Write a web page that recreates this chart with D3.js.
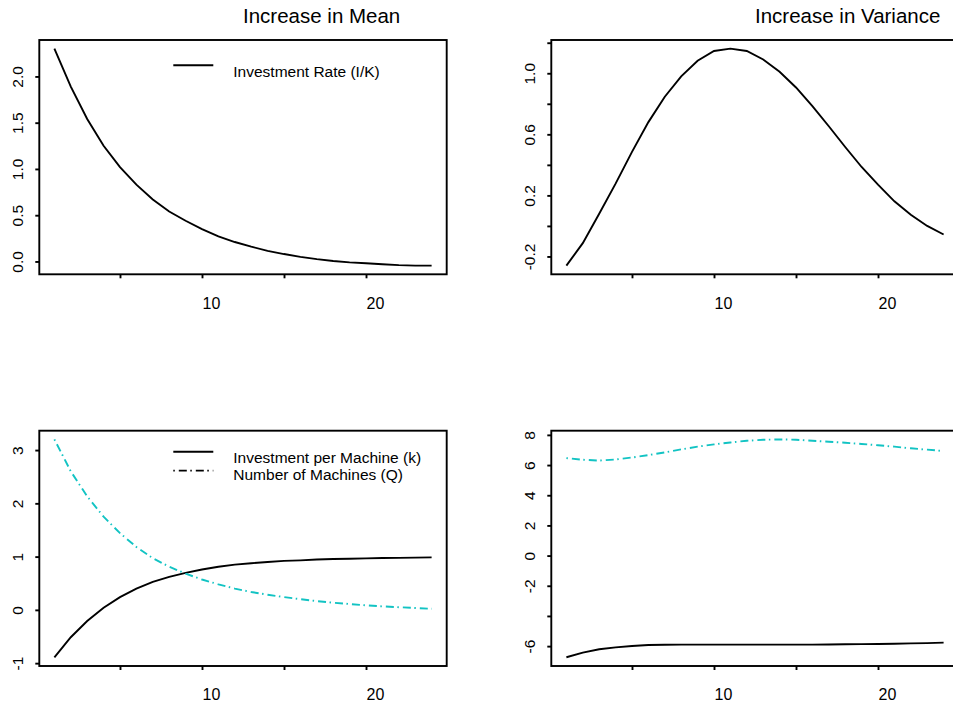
<!DOCTYPE html>
<html><head><meta charset="utf-8">
<script src="https://cdn.jsdelivr.net/npm/d3@7"></script>
<style>
body{margin:0;background:#fff}
svg{display:block;font-family:"Liberation Sans",Arial,Helvetica,sans-serif}
</style>
</head><body>
<svg id="chart" width="953" height="707"></svg>
<script>
// ---------- data ----------
const periods = [1,2,3,4,5,6,7,8,9,10,11,12,13,14,15,16,17,18,19,20,21,22,23,24];

const meanInvestmentRate = [2.30,1.89,1.54,1.25,1.02,0.83,0.67,0.54,0.44,0.35,0.27,0.21,0.16,0.115,0.08,0.05,0.025,0.005,-0.01,-0.02,-0.03,-0.04,-0.045,-0.045];
const varInvestmentRate  = [-0.26,-0.113,0.08,0.277,0.485,0.68,0.846,0.98,1.082,1.146,1.161,1.146,1.09,1.01,0.907,0.785,0.653,0.517,0.386,0.27,0.161,0.073,0.0,-0.056];
const meanInvPerMachine  = [-0.89,-0.513,-0.21,0.04,0.24,0.40,0.525,0.62,0.695,0.758,0.81,0.85,0.875,0.90,0.92,0.93,0.945,0.955,0.96,0.967,0.973,0.977,0.98,0.985];
const meanNumMachines    = [3.2,2.6,2.13,1.75,1.44,1.18,0.97,0.81,0.68,0.57,0.48,0.40,0.335,0.285,0.24,0.20,0.165,0.135,0.11,0.085,0.066,0.05,0.035,0.02];
const varInvPerMachine   = [-6.74,-6.43,-6.21,-6.08,-5.99,-5.93,-5.91,-5.90,-5.90,-5.90,-5.90,-5.90,-5.90,-5.90,-5.90,-5.90,-5.89,-5.88,-5.87,-5.86,-5.84,-5.82,-5.80,-5.77];
const varNumMachines     = [6.46,6.35,6.30,6.37,6.50,6.66,6.84,7.04,7.22,7.37,7.50,7.61,7.68,7.70,7.68,7.61,7.55,7.48,7.40,7.31,7.22,7.11,7.02,6.93];

const xTicks = [5,10,15,20];
const xTickLabels = [10,20];
const yTicksTL = [0,0.5,1,1.5,2];
const yLabelsTL = ["0.0","0.5","1.0","1.5","2.0"];
const yTicksTR = [-0.2,0,0.2,0.4,0.6,0.8,1.0,1.2];
const yLabelsTR = {"-0.2":"-0.2","0.2":"0.2","0.6":"0.6","1":"1.0"};
const yTicksBL = [-1,0,1,2,3];
const yTicksBR = [-6,-4,-2,0,2,4,6,8];
const yLabelsBR = [-6,-2,0,2,4,6,8];

const titles = ["Increase in Mean","Increase in Variance"];
const legendTL = ["Investment Rate (I/K)"];
const legendBL = ["Investment per Machine (k)","Number of Machines (Q)"];

// ---------- styles ----------
const CYAN = "#12c3c3";
const DOTDASH = "1.5,4,8,3.5";
const LW = 1.9;

const svg = d3.select("#chart");
const panelW = 407.4;

function padDomain(arrs){
  const all = arrs.flat();
  const lo = d3.min(all), hi = d3.max(all), p = (hi-lo)*0.04;
  return [lo-p, hi+p];
}

const panels = [
  {left:39.3, top:40, h:234.3, title:titles[0],
   series:[{v:meanInvestmentRate,c:"#000",d:null}],
   yTicks:yTicksTL, yFmt:d=>yLabelsTL[yTicksTL.indexOf(d)],
   legend:[{t:legendTL[0],c:"#000",d:null,ly:65.3,ty:76.5}]},
  {left:551.3, top:40, h:234.3, title:titles[1],
   series:[{v:varInvestmentRate,c:"#000",d:null}],
   yTicks:yTicksTR, yFmt:d=>yLabelsTR[String(+d.toFixed(1))]||"",
   legend:[]},
  {left:39.3, top:430.7, h:235.3, title:null,
   series:[{v:meanInvPerMachine,c:"#000",d:null},{v:meanNumMachines,c:CYAN,d:DOTDASH}],
   yTicks:yTicksBL, yFmt:d=>String(d),
   legend:[{t:legendBL[0],c:"#000",d:null,ly:451.8,ty:462.5},
           {t:legendBL[1],c:"#000",d:DOTDASH,ly:470.6,ty:480}]},
  {left:551.3, top:430.7, h:235.3, title:null,
   series:[{v:varInvPerMachine,c:"#000",d:null},{v:varNumMachines,c:CYAN,d:DOTDASH}],
   yTicks:yTicksBR, yFmt:d=>yLabelsBR.includes(d)?String(d):"",
   legend:[]}
];

panels.forEach(p=>{
  const x = d3.scaleLinear().domain(padDomain([periods])).range([p.left,p.left+panelW]);
  const y = d3.scaleLinear().domain(padDomain(p.series.map(s=>s.v))).range([p.top+p.h,p.top]);
  const g = svg.append("g");

  // y axis
  const ya = g.append("g").attr("transform",`translate(${p.left},0)`)
    .call(d3.axisLeft(y).tickValues(p.yTicks).tickSize(4).tickSizeOuter(0).tickFormat(p.yFmt));
  ya.select(".domain").remove();
  ya.selectAll(".tick line").attr("stroke","#000").attr("stroke-width",LW);
  ya.selectAll(".tick text").attr("transform","rotate(-90)").attr("x",0).attr("y",-16.3)
    .attr("dy",null).attr("text-anchor","middle").attr("font-size","15.5px").attr("fill","#000")
    .attr("font-family",'"Liberation Sans",Arial,sans-serif');

  // x axis
  const xa = g.append("g").attr("transform",`translate(0,${p.top+p.h})`)
    .call(d3.axisBottom(x).tickValues(xTicks).tickSize(4).tickSizeOuter(0)
      .tickFormat(d=>xTickLabels.includes(d)?String(d):""));
  xa.select(".domain").remove();
  xa.selectAll(".tick line").attr("stroke","#000").attr("stroke-width",LW);
  xa.selectAll(".tick text").attr("y",34.4).attr("dy",null).attr("text-anchor","start")
    .attr("font-size","16px").attr("fill","#000")
    .attr("font-family",'"Liberation Sans",Arial,sans-serif');

  // box
  g.append("rect").attr("x",p.left).attr("y",p.top).attr("width",panelW).attr("height",p.h)
    .attr("fill","none").attr("stroke","#000").attr("stroke-width",LW);

  // series
  const line = d3.line().x((d,i)=>x(periods[i])).y(d=>y(d));
  p.series.forEach(s=>{
    g.append("path").datum(s.v).attr("d",line).attr("fill","none")
      .attr("stroke",s.c).attr("stroke-width",LW).attr("stroke-dasharray",s.d);
  });

  // legend
  p.legend.forEach(l=>{
    g.append("line").attr("x1",p.left+134).attr("x2",p.left+174).attr("y1",l.ly).attr("y2",l.ly)
      .attr("stroke",l.c).attr("stroke-width",LW).attr("stroke-dasharray",l.d);
    g.append("text").attr("x",p.left+194).attr("y",l.ty).attr("font-size","15.5px").text(l.t);
  });

  // title
  if(p.title){
    g.append("text").attr("x",p.left+panelW/2).attr("y",23).attr("font-size","20.5px")
      .attr("text-anchor","start").text(p.title);
  }
});
</script>
</body></html>
